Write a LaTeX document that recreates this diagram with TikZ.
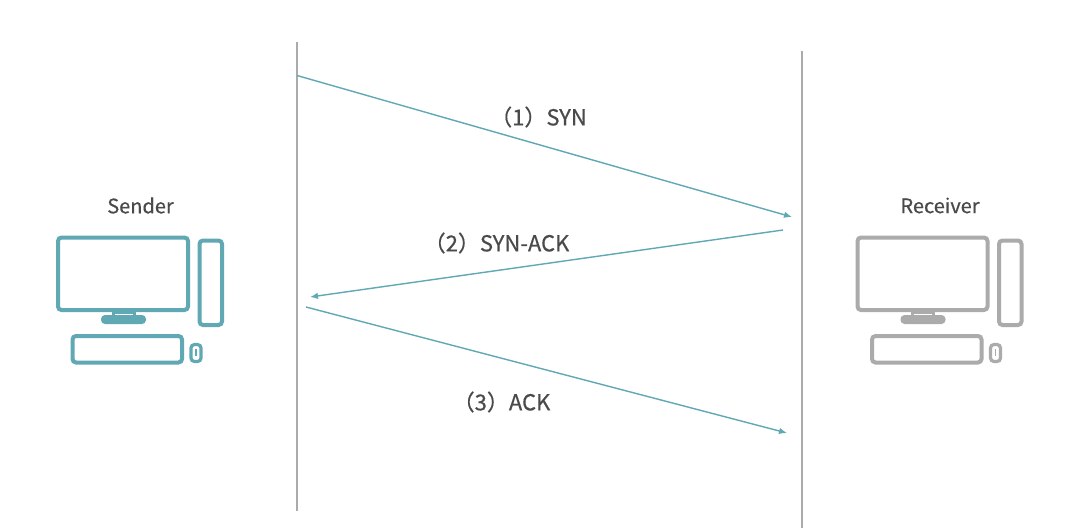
\documentclass[tikz,border=0pt]{standalone}
\usepackage{fontspec}
\setmainfont[RawFeature={embolden=0.5}]{Noto Sans CJK SC}
\usetikzlibrary{arrows.meta}
\definecolor{teal1}{HTML}{5FA8B4}
\definecolor{gray1}{HTML}{ABABAB}
\definecolor{vline}{HTML}{ABABAB}
\definecolor{txt}{HTML}{4A4A4A}
\tikzset{
  lifeline/.style={draw=vline,line width=1.4pt},
  msg/.style={draw=teal1,line width=1.4pt,-{Latex[length=8pt,width=6.5pt]}},
  lbl/.style={text=txt,font=\fontsize{22}{24}\selectfont,inner sep=0pt,anchor=center},
  part/.style={line width=4pt,rounded corners=3.5pt,fill=none},
}
\newcommand{\pcicon}[2]{%
  \begin{scope}[shift={(#1,0)}]
    \draw[part,draw=#2] (58,237.5) rectangle (188,310);
    \draw[part,draw=#2] (199.5,240.5) rectangle (222,325);
    \draw[part,draw=#2] (72.5,336) rectangle (182,362.5);
    \draw[draw=#2,line width=3.2pt,rounded corners=3.5pt] (191,344.5) rectangle (201,361.5);
    \draw[draw=#2,line width=1.3pt] (196,349) -- (196,356);
    \fill[#2,rounded corners=4pt] (101,315) rectangle (146,324);
    \draw[draw=#2,line width=3pt] (113,316) -- (113,311) -- (134,311) -- (134,316);
    \draw[draw=#2,line width=1.6pt] (114,313.5) -- (133,313.5);
    \draw[draw=#2,line width=1.4pt] (114,309.5) -- (133,309.5);
  \end{scope}}
\begin{document}
\begin{tikzpicture}[x=1pt,y=-1pt]
  \useasboundingbox (0,0) rectangle (1075,528);
  \fill[white] (0,0) rectangle (1075,528);
  \coordinate (st) at (297,42);
  \coordinate (sb) at (297,511);
  \coordinate (rt) at (802,51);
  \coordinate (rb) at (802,528);
  \draw[lifeline] (st) -- (sb);
  \draw[lifeline] (rt) -- (rb);
  \coordinate (a1) at (297,75.5);
  \coordinate (b1) at (792,217);
  \coordinate (a2) at (783,230);
  \coordinate (b2) at (310,297);
  \coordinate (a3) at (306,307);
  \coordinate (b3) at (787,433);
  \draw[msg] (a1) -- (b1);
  \draw[msg] (a2) -- (b2);
  \draw[msg] (a3) -- (b3);
  \node[lbl] (l1) at (538.5,117) {（1）SYN};
  \node[lbl] (l2) at (496.5,243) {（2）SYN-ACK};
  \node[lbl] (l3) at (501.5,402) {（3）ACK};
  \node[lbl,font=\fontsize{20}{24}\selectfont] (sender) at (140.5,205.5) {Sender};
  \node[lbl,font=\fontsize{20}{24}\selectfont] (receiver) at (940,205.5) {Receiver};
  \pcicon{0}{teal1}
  \pcicon{799.5}{gray1}
\end{tikzpicture}
\end{document}
